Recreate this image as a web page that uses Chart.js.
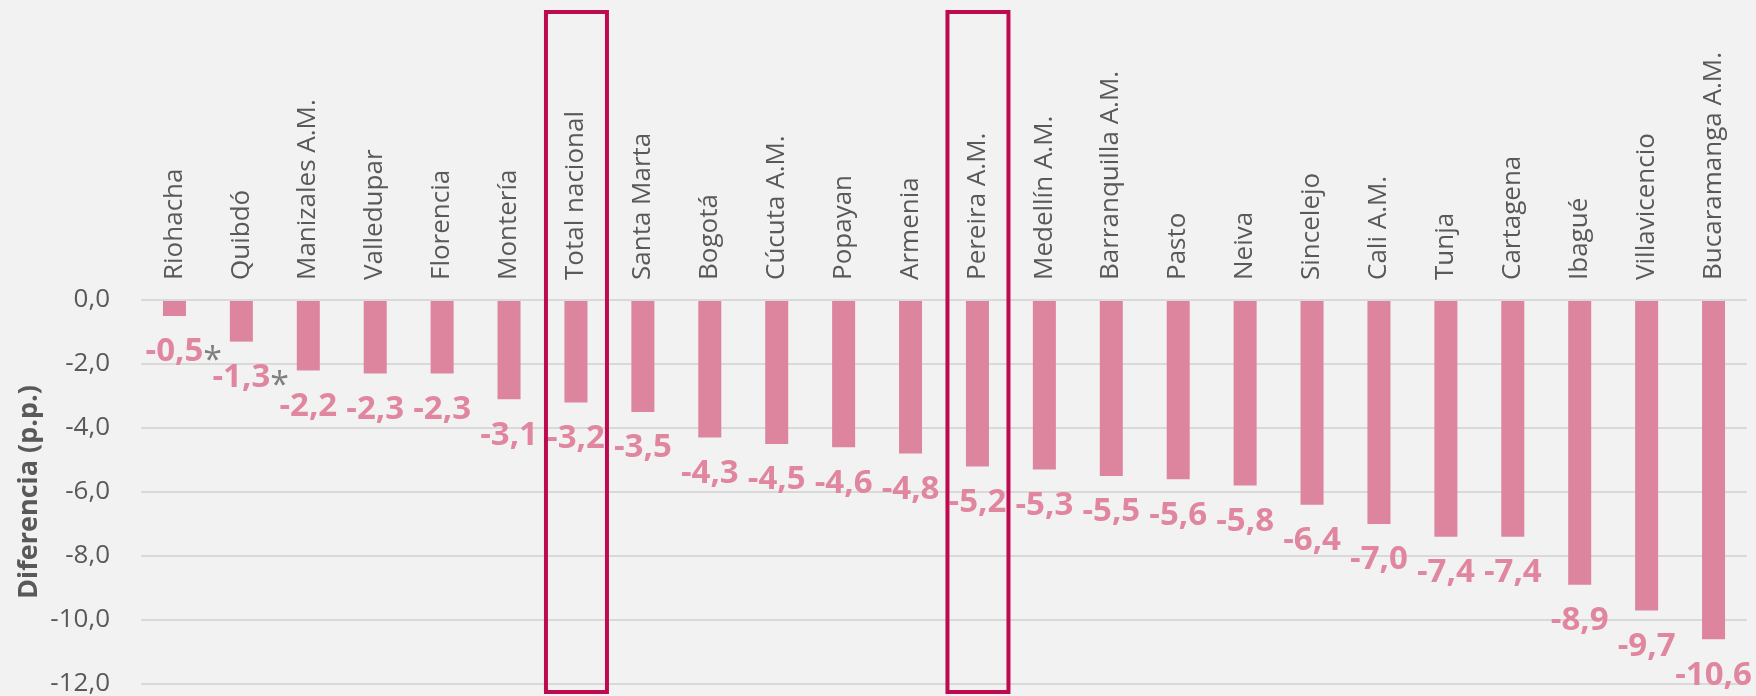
<!DOCTYPE html>
<html>
<head>
<meta charset="utf-8">
<script src="https://cdn.jsdelivr.net/npm/chart.js@4.4.1/dist/chart.umd.min.js"></script>
<style>
html,body{margin:0;padding:0;background:#F2F2F2;}
#wrap{width:1756px;height:696px;position:relative;}
</style>
</head>
<body>
<div id="wrap"><canvas id="c" width="1756" height="696"></canvas></div>
<script>
const categories = ["Riohacha","Quibdó","Manizales A.M.","Valledupar","Florencia","Montería","Total nacional","Santa Marta","Bogotá","Cúcuta A.M.","Popayan","Armenia","Pereira A.M.","Medellín A.M.","Barranquilla A.M.","Pasto","Neiva","Sincelejo","Cali A.M.","Tunja","Cartagena","Ibagué","Villavicencio","Bucaramanga A.M."];
const values = [-0.5,-1.3,-2.2,-2.3,-2.3,-3.1,-3.2,-3.5,-4.3,-4.5,-4.6,-4.8,-5.2,-5.3,-5.5,-5.6,-5.8,-6.4,-7.0,-7.4,-7.4,-8.9,-9.7,-10.6];
const flagged = ["Riohacha","Quibdó"];
const highlighted = ["Total nacional","Pereira A.M."];
const yTicks = [0,-2,-4,-6,-8,-10,-12];
const yTitle = "Diferencia (p.p.)";

const fmt = v => (Math.abs(v) < 1e-9 ? 0 : v).toFixed(1).replace('.', ',');

const BAR = '#DD859E';
const LABEL = '#E0869F';
const TEXT = '#595959';
const GRID = '#D9D9D9';
const BOX = '#BE0A4F';
const FONT = "'Open Sans', 'Noto Sans', sans-serif";

const bgPlugin = {
  id: 'bg',
  beforeDraw(chart) {
    const ctx = chart.ctx;
    ctx.save();
    ctx.fillStyle = '#F2F2F2';
    ctx.fillRect(0, 0, chart.width, chart.height);
    ctx.restore();
  }
};

const labelPlugin = {
  id: 'valueLabels',
  afterDatasetsDraw(chart) {
    const ctx = chart.ctx;
    const meta = chart.getDatasetMeta(0);
    ctx.save();
    meta.data.forEach((bar, i) => {
      const txt = fmt(values[i]);
      ctx.font = "bold 33px " + FONT;
      ctx.fillStyle = LABEL;
      ctx.textAlign = 'center';
      ctx.textBaseline = 'middle';
      const y = bar.y + 36;
      ctx.fillText(txt, bar.x, y);
      if (flagged.includes(categories[i])) {
        const w = ctx.measureText(txt).width;
        ctx.font = "34px " + FONT;
        ctx.fillStyle = '#7F7F7F';
        ctx.textAlign = 'left';
        ctx.fillText('*', bar.x + w / 2, y + 9);
      }
    });
    ctx.restore();
  }
};

const boxPlugin = {
  id: 'boxes',
  afterDraw(chart) {
    const ctx = chart.ctx;
    const xs = chart.scales.x;
    ctx.save();
    ctx.strokeStyle = BOX;
    ctx.lineWidth = 4;
    highlighted.forEach(name => {
      const idx = categories.indexOf(name);
      const cx = xs.getPixelForValue(idx);
      ctx.strokeRect(cx - 30, 12, 61, chart.height - 4 - 12);
    });
    ctx.restore();
  }
};

new Chart(document.getElementById('c'), {
  type: 'bar',
  data: {
    labels: categories,
    datasets: [{
      data: values,
      backgroundColor: BAR,
      borderWidth: 0,
      categoryPercentage: 1.0,
      barPercentage: 0.344
    }]
  },
  options: {
    responsive: false,
    animation: false,
    devicePixelRatio: 1,
    layout: { padding: { left: 0, right: 9, top: 0, bottom: 12 } },
    plugins: {
      legend: { display: false },
      tooltip: { enabled: false }
    },
    scales: {
      x: {
        type: 'category',
        position: 'top',
        grid: { display: false, drawTicks: false },
        border: { display: false },
        ticks: {
          autoSkip: false,
          minRotation: 90,
          maxRotation: 90,
          padding: 20,
          labelOffset: 31,
          color: TEXT,
          font: { family: FONT, size: 26 }
        },
        afterFit(scale) { scale.height = 300; }
      },
      y: {
        min: -12,
        max: 0,
        grid: { color: GRID, lineWidth: 2, drawTicks: true, tickLength: 31, tickColor: 'rgba(0,0,0,0)' },
        border: { display: false },
        afterBuildTicks(scale) { scale.ticks = yTicks.map(v => ({ value: v })); },
        ticks: {
          padding: 0,
          color: TEXT,
          font: { family: FONT, size: 26, lineHeight: 0.9 },
          callback: v => fmt(v)
        },
        title: {
          display: true,
          text: yTitle,
          color: TEXT,
          font: { family: FONT, size: 27, weight: 'bold' },
          padding: { top: 13, bottom: 0 }
        },
        afterFit(scale) { scale.width = 141; }
      }
    }
  },
  plugins: [bgPlugin, labelPlugin, boxPlugin]
});
</script>
</body>
</html>
